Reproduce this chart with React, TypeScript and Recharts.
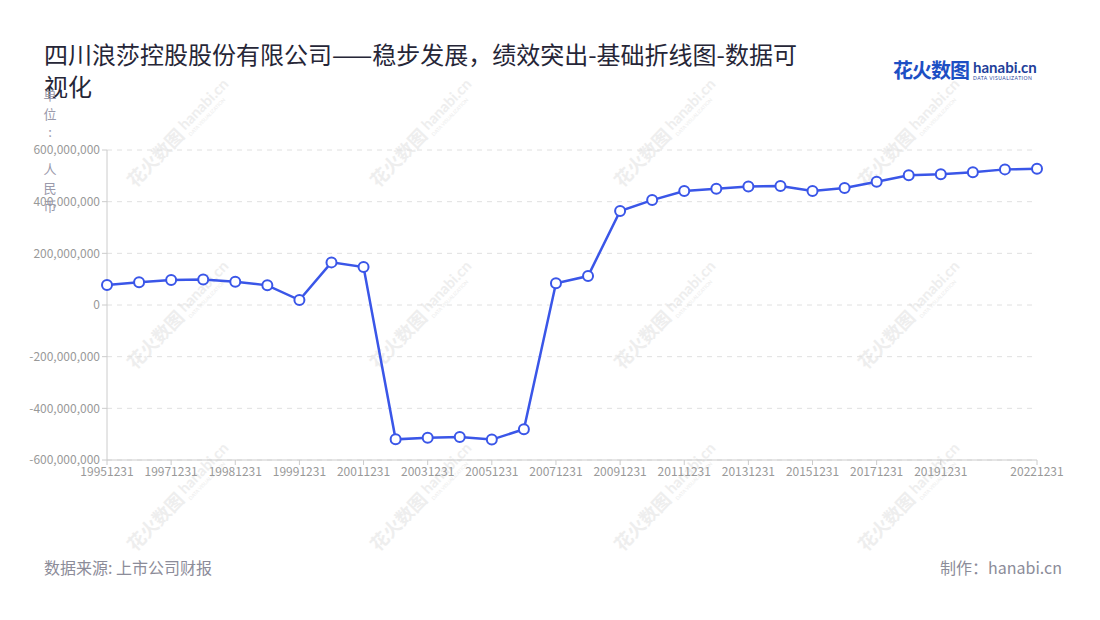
import React from "react";
import { LineChart, Line, XAxis, YAxis, CartesianGrid } from "recharts";

const dates = [
  "19951231", "19961231", "19971231", "19980630", "19981231", "19990630",
  "19991231", "20001231", "20011231", "20021231", "20031231", "20041231",
  "20051231", "20061231", "20071231", "20081231", "20091231", "20101231",
  "20111231", "20121231", "20131231", "20141231", "20151231", "20161231",
  "20171231", "20181231", "20191231", "20201231", "20211231", "20221231",
];

const values = [
  77000000, 88000000, 97000000, 99000000, 90000000, 76000000,
  19000000, 165000000, 147000000, -520000000, -514000000, -511000000,
  -521000000, -481000000, 84000000, 112000000, 364000000, 406000000,
  441000000, 450000000, 459000000, 461000000, 441000000, 453000000,
  477000000, 502000000, 506000000, 514000000, 525000000, 527000000,
];

const xTickLabels = [
  "19951231", "19971231", "19981231", "19991231", "20011231", "20031231",
  "20051231", "20071231", "20091231", "20111231", "20131231", "20151231",
  "20171231", "20191231", "20221231",
];

const yTicks = [-600000000, -400000000, -200000000, 0, 200000000, 400000000, 600000000];

const titleLines = ["四川浪莎控股股份有限公司——稳步发展，绩效突出-基础折线图-数据可", "视化"];
const yAxisNameChars = ["单", "位", ":", " ", "人", "民", "币"];
const sourceText = "数据来源: 上市公司财报";
const makerText = "制作：hanabi.cn";

const data = dates.map((d, i) => ({ date: d, value: values[i] }));

const FONT = '"Noto Sans CJK SC", "Noto Sans", sans-serif';

const wmCols = [185, 428, 672, 916];
const wmRows = [128, 310, 492];

function Watermarks() {
  const items: React.ReactNode[] = [];
  wmRows.forEach((cy, ri) =>
    wmCols.forEach((cx, ci) => {
      items.push(
        <g key={`${ri}-${ci}`} transform={`translate(${cx},${cy}) rotate(-46)`} fill="#eeeeee">
          <text x={-78} y={6} fontSize={18} fontWeight={700} fontFamily={FONT}>花火数图</text>
          <text x={-2} y={2} fontSize={15} fontWeight={700} fontFamily="Lato, sans-serif">hanabi.cn</text>
          <text x={-2} y={10} fontSize={5} fontFamily="Lato, sans-serif">DATA VISUALIZATION</text>
        </g>
      );
    })
  );
  return (
    <svg width={1100} height={620} style={{ position: "absolute", left: 0, top: 0 }}>
      {items}
    </svg>
  );
}

export default function App() {
  return (
    <div style={{ position: "absolute", left: 0, top: 0, width: 1100, height: 620, background: "#fff", fontFamily: FONT, overflow: "hidden" }}>
      <Watermarks />
      <div style={{ position: "absolute", left: 44, top: 38, fontSize: 24, lineHeight: "32px", color: "#262637" }}>
        {titleLines.map((t, i) => (
          <div key={i} style={{ whiteSpace: "nowrap" }}>{t}</div>
        ))}
      </div>
      <div style={{ position: "absolute", left: 893, top: 58, display: "flex", alignItems: "flex-end" }}>
        <span style={{ fontSize: 20, fontWeight: 700, color: "#1d4fc4", letterSpacing: -1, lineHeight: "24px" }}>花火数图</span>
        <span style={{ display: "inline-flex", flexDirection: "column", marginLeft: 4 }}>
          <span style={{ fontSize: 15, fontWeight: 700, color: "#1f3f9a", fontFamily: "Lato, sans-serif", lineHeight: "16px" }}>hanabi.cn</span>
          <span style={{ fontSize: 5, color: "#1f3f9a", fontFamily: "Lato, sans-serif", letterSpacing: 0.5, lineHeight: "7px" }}>DATA VISUALIZATION</span>
        </span>
      </div>
      <div style={{ position: "absolute", left: 0, top: 0 }}>
        <LineChart width={1100} height={620} data={data} margin={{ top: 150, right: 63, bottom: 130, left: 0 }}>
          <CartesianGrid vertical={false} stroke="#e0e0e0" strokeDasharray="5 5" />
          <XAxis
            dataKey="date"
            ticks={xTickLabels}
            interval={0}
            height={30}
            stroke="#cccccc"
            tickLine={{ stroke: "#cccccc" }}
            tickSize={5}
            tick={{ fill: "#999999", fontSize: 12, fontFamily: FONT }}
          />
          <YAxis
            width={107}
            domain={[-600000000, 600000000]}
            ticks={yTicks}
            interval={0}
            stroke="#cccccc"
            tickLine={{ stroke: "#cccccc" }}
            tickSize={5}
            tickFormatter={(v: number) => v.toLocaleString("en-US")}
            tick={{ fill: "#999999", fontSize: 12, fontFamily: FONT }}
          />
          <Line
            type="linear"
            dataKey="value"
            stroke="#3a56e8"
            strokeWidth={2.5}
            dot={{ r: 5, fill: "#ffffff", stroke: "#3a56e8", strokeWidth: 2 }}
            isAnimationActive={false}
          />
        </LineChart>
      </div>
      <div style={{ position: "absolute", left: 42, top: 86, width: 16, fontSize: 13, lineHeight: "18.5px", color: "#9a9aab", textAlign: "center" }}>
        {yAxisNameChars.map((c, i) => (
          <div key={i} style={{ height: 18.5 }}>{c}</div>
        ))}
      </div>
      <div style={{ position: "absolute", left: 44, top: 555, fontSize: 16, color: "#8c8c99" }}>{sourceText}</div>
      <div style={{ position: "absolute", right: 38, top: 555, fontSize: 16, color: "#8c8c99" }}>{makerText}</div>
    </div>
  );
}
